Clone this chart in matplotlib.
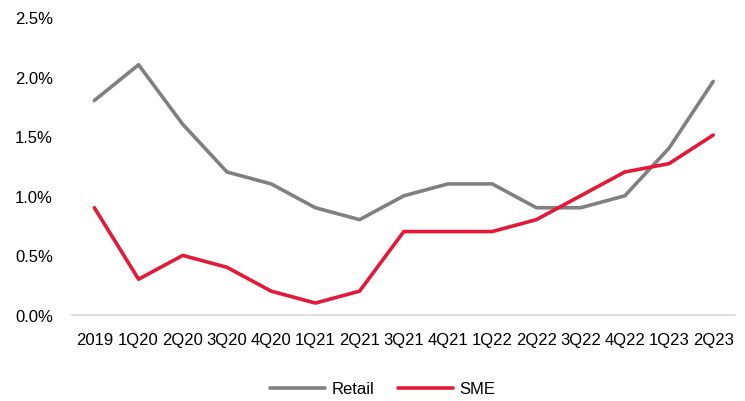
import matplotlib
matplotlib.use("Agg")
import matplotlib.pyplot as plt
from matplotlib.ticker import FuncFormatter

plt.rcParams['font.family'] = ['Liberation Sans', 'DejaVu Sans']

quarters = ['2019', '1Q20', '2Q20', '3Q20', '4Q20', '1Q21', '2Q21', '3Q21',
            '4Q21', '1Q22', '2Q22', '3Q22', '4Q22', '1Q23', '2Q23']
retail = [1.8, 2.1, 1.6, 1.2, 1.1, 0.9, 0.8, 1.0, 1.1, 1.1, 0.9, 0.9, 1.0, 1.4, 1.96]
sme = [0.9, 0.3, 0.5, 0.4, 0.2, 0.1, 0.2, 0.7, 0.7, 0.7, 0.8, 1.0, 1.2, 1.27, 1.51]

fig = plt.figure(figsize=(7.45, 4.02), dpi=100)
ax = fig.add_axes([0.097, 0.214, 0.89, 0.741])

x = range(len(quarters))
ax.plot(x, retail, color='#808080', lw=2.6, label='Retail', solid_capstyle='round')
ax.plot(x, sme, color='#E31937', lw=2.6, label='SME', solid_capstyle='round')

ax.set_xlim(-0.5, len(quarters) - 0.5)
ax.set_ylim(0, 2.5)
ax.set_yticks([0, 0.5, 1.0, 1.5, 2.0, 2.5])
ax.yaxis.set_major_formatter(FuncFormatter(lambda v, p: f'{v:.1f}%'))
ax.set_xticks(list(x))
ax.set_xticklabels(quarters)
ax.tick_params(axis='both', length=0, labelsize=12, colors='#000000')
ax.tick_params(axis='x', pad=12)
ax.tick_params(axis='y', pad=14)

for s in ['top', 'right', 'left']:
    ax.spines[s].set_visible(False)
ax.spines['bottom'].set_color('#D9D9D9')
ax.spines['bottom'].set_linewidth(1.2)

fig.legend(loc='center', bbox_to_anchor=(0.514, 0.03), ncol=2, frameon=False,
           fontsize=12, handlelength=3.3, columnspacing=1.4, handletextpad=0.4)

fig.savefig('out.png', dpi=100)
